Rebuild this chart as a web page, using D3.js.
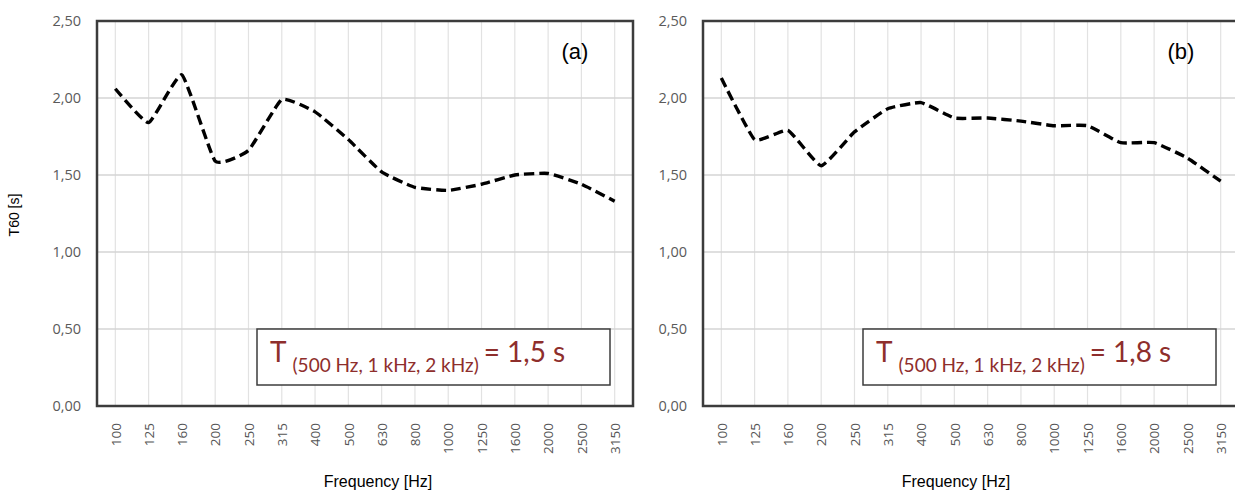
<!DOCTYPE html>
<html>
<head>
<meta charset="utf-8">
<script src="https://cdnjs.cloudflare.com/ajax/libs/d3/7.8.5/d3.min.js"></script>
<style>
  body { margin: 0; background: #fff; }
  svg { display: block; }
</style>
</head>
<body>
<div id="graph"></div>
<script>
// frequency bands (Hz)
var bands = ["100", "125", "160", "200", "250", "315", "400", "500", "630", "800", "1000", "1250", "1600", "2000", "2500", "3150"];
// T60 [s] for room (a) and room (b)
var t60a = [2.06, 1.84, 2.15, 1.59, 1.66, 1.99, 1.91, 1.73, 1.52, 1.42, 1.40, 1.44, 1.50, 1.51, 1.44, 1.33];
var t60b = [2.13, 1.73, 1.79, 1.56, 1.78, 1.93, 1.97, 1.87, 1.87, 1.85, 1.82, 1.82, 1.71, 1.71, 1.61, 1.46];
var yTicks = [0, 0.5, 1, 1.5, 2, 2.5];
var panelTags = ["(a)", "(b)"];
var meanT = ["1,5", "1,8"];

var svgWidth = 1235, svgHeight = 497;
var plotW = 536, plotH = 385;
var panels = [
  {left: 97, top: 21, data: t60a, tag: panelTags[0], mean: meanT[0], xLabel: 281, yTitle: true},
  {left: 703, top: 21, data: t60b, tag: panelTags[1], mean: meanT[1], xLabel: 253, yTitle: false}
];

var svg = d3.select("#graph").append("svg")
  .attr("width", svgWidth)
  .attr("height", svgHeight);

var xScale = d3.scalePoint().domain(bands).range([0, plotW]).padding(0.55);
var yScale = d3.scaleLinear().domain([0, 2.5]).range([plotH, 0]);
var fmt = function(d) { return d3.format(".2f")(d).replace(".", ","); };

var lineGen = d3.line()
  .x(function(d, i) { return xScale(bands[i]); })
  .y(function(d) { return yScale(d); })
  .curve(d3.curveCardinal.tension(0.6));

panels.forEach(function(p) {
  var g = svg.append("g").attr("transform", "translate(" + p.left + "," + p.top + ")");

  // vertical grid on each band
  g.append("g").selectAll("line").data(bands).join("line")
    .attr("x1", function(d) { return xScale(d); })
    .attr("x2", function(d) { return xScale(d); })
    .attr("y1", 0).attr("y2", plotH)
    .style("stroke", "#e2e2e2").style("stroke-width", 1.2);

  // horizontal grid
  g.append("g").selectAll("line").data(yTicks).join("line")
    .attr("x1", 0).attr("x2", plotW)
    .attr("y1", function(d) { return yScale(d); })
    .attr("y2", function(d) { return yScale(d); })
    .style("stroke", "#d4d4d4").style("stroke-width", 1.3);

  // y axis labels
  var yAxis = d3.axisLeft(yScale).tickValues(yTicks).tickFormat(fmt).tickSize(0).tickPadding(16);
  g.append("g").attr("class", "y axis").call(yAxis)
    .call(function(a) { a.select(".domain").remove(); })
    .selectAll("text")
    .style("font-family", "'Open Sans', sans-serif")
    .style("font-size", "14.5px")
    .style("fill", "#5a5a5a");

  // x axis labels, rotated
  var xAxis = d3.axisBottom(xScale).tickSize(0).tickPadding(0);
  g.append("g").attr("class", "x axis").attr("transform", "translate(0," + plotH + ")").call(xAxis)
    .call(function(a) { a.select(".domain").remove(); })
    .selectAll("text")
    .attr("transform", "translate(0,17) rotate(-90)")
    .attr("text-anchor", "end")
    .attr("x", 0).attr("y", 0).attr("dy", "0.35em")
    .style("font-family", "'Open Sans', sans-serif")
    .style("font-size", "13.5px")
    .style("fill", "#555");

  // frame
  g.append("rect")
    .attr("width", plotW).attr("height", plotH)
    .style("fill", "none").style("stroke", "#3c3c3c").style("stroke-width", 2.5);

  // T60 curve
  g.append("path")
    .attr("d", lineGen(p.data))
    .style("fill", "none").style("stroke", "#000")
    .style("stroke-width", 3.4).style("stroke-dasharray", "10,5");

  // panel tag
  g.append("text")
    .attr("x", 478).attr("y", 32)
    .attr("text-anchor", "middle").attr("dominant-baseline", "middle")
    .style("font-family", "'Liberation Sans', Arial, sans-serif")
    .style("font-size", "22px").style("fill", "#000")
    .text(p.tag);

  // averaged reverberation time box
  var boxTop = yScale(0.5);
  g.append("rect")
    .attr("x", 160).attr("y", boxTop).attr("width", 353).attr("height", 56)
    .style("fill", "#fff").style("stroke", "#3c3c3c").style("stroke-width", 1.5);
  var t = g.append("text")
    .attr("x", 173).attr("y", boxTop + 33)
    .style("font-family", "Lato, 'Open Sans', sans-serif")
    .style("fill", "#8e2e2c");
  t.append("tspan").style("font-size", "28px").text("T");
  t.append("tspan").attr("dy", 10).attr("dx", 6).style("font-size", "19px").text("(500 Hz, 1 kHz, 2 kHz)");
  t.append("tspan").attr("dy", -10).attr("dx", 5).style("font-size", "28px").text("= " + p.mean + " s");

  // x title
  g.append("text")
    .attr("x", p.xLabel).attr("y", 462)
    .attr("text-anchor", "middle").attr("dominant-baseline", "middle")
    .style("font-family", "'Liberation Sans', Arial, sans-serif")
    .style("font-size", "16px").style("fill", "#000")
    .text("Frequency [Hz]");

  if (p.yTitle) {
    g.append("text")
      .attr("transform", "translate(" + (-82) + "," + 194 + ") rotate(-90)")
      .attr("text-anchor", "middle").attr("dominant-baseline", "middle")
      .style("font-family", "'Liberation Sans', Arial, sans-serif")
      .style("font-size", "14px").style("fill", "#000")
      .text("T60 [s]");
  }
});
</script>
</body>
</html>
